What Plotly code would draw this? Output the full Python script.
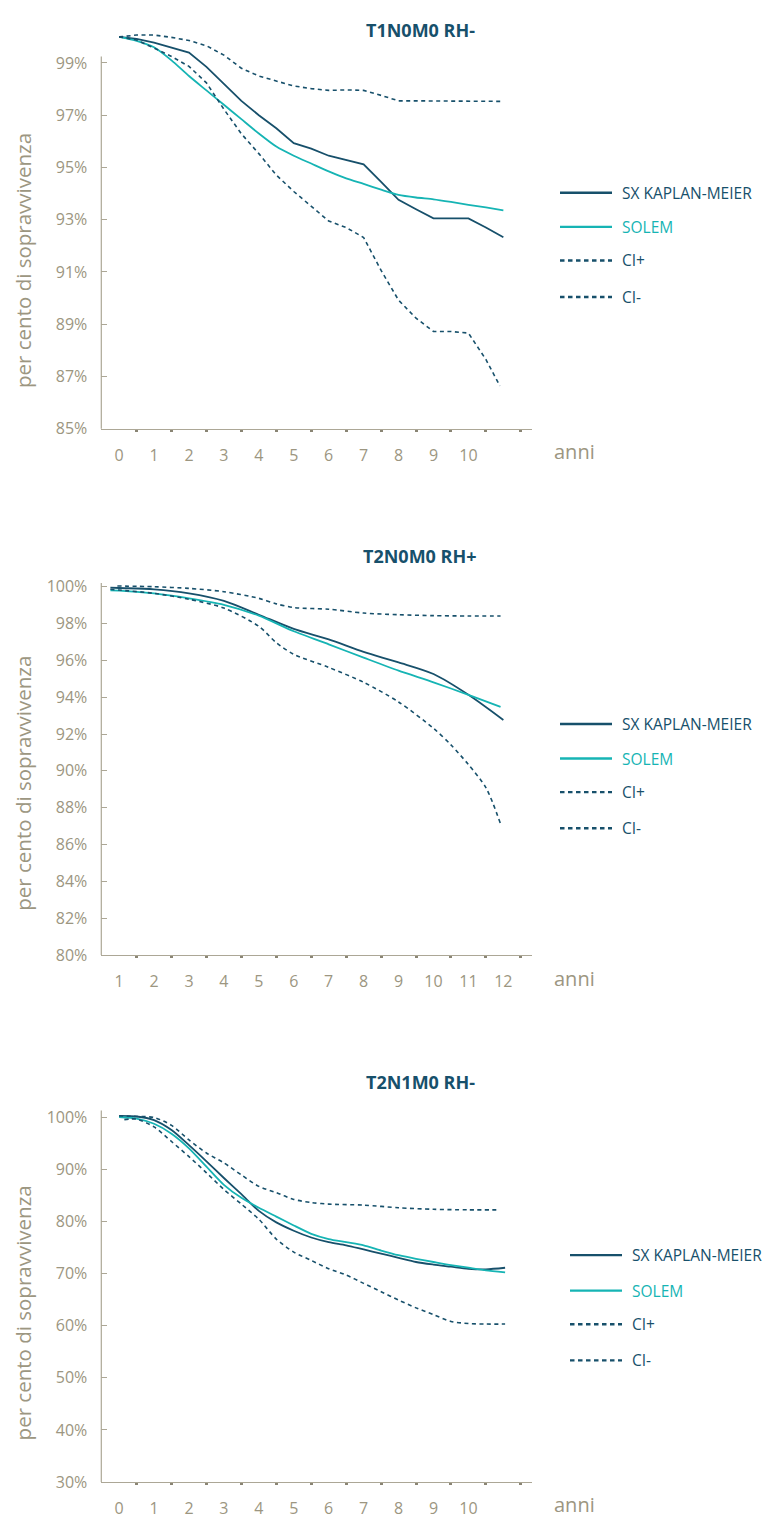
import plotly.graph_objects as go

W, H = 763, 1525

# ---------------- DATA ----------------
titles = ["T1N0M0 RH-", "T2N0M0 RH+", "T2N1M0 RH-"]
series_names = ["SX KAPLAN-MEIER", "SOLEM", "CI+", "CI-"]
y_label = "per cento di sopravvivenza"
x_label = "anni"

# Chart 1 : T1N0M0 RH-
c1_years = [0, 0.5, 1, 1.5, 2, 2.5, 3, 3.5, 4, 4.5, 5, 5.5, 6, 6.5, 7, 7.5, 8, 8.5, 9, 9.5, 10, 10.5, 11]
c1_km = [100.0, 99.92, 99.78, 99.6, 99.4, 98.85, 98.2, 97.55, 97.0, 96.5, 95.93, 95.72, 95.45, 95.28, 95.12,
         94.45, 93.76, 93.4, 93.05, 93.05, 93.05, 92.7, 92.33]
c1_solem = [100.0, 99.85, 99.6, 99.1, 98.5, 97.95, 97.4, 96.85, 96.3, 95.8, 95.45, 95.15, 94.85, 94.58, 94.37,
            94.15, 93.95, 93.85, 93.78, 93.68, 93.57, 93.47, 93.36]
c1_ci_hi = [100.0, 100.07, 100.07, 99.98, 99.86, 99.66, 99.3, 98.8, 98.5, 98.3, 98.12, 98.02, 97.95, 97.97, 97.95,
            97.76, 97.55, 97.55, 97.55, 97.55, 97.55, 97.55, 97.53]
c1_ci_lo_years = [0, 0.5, 1, 1.5, 2, 2.5, 3, 3.5, 4, 4.5, 5, 5.5, 6, 6.5, 7, 7.5, 8, 8.5, 9, 9.5, 10, 10.5, 10.9]
c1_ci_lo = [100.0, 99.88, 99.57, 99.25, 98.87, 98.24, 97.23, 96.29, 95.53, 94.71, 94.08, 93.51, 92.95, 92.7, 92.32,
            91.06, 89.92, 89.23, 88.72, 88.72, 88.66, 87.65, 86.64]
c1_ticks = [0, 1, 2, 3, 4, 5, 6, 7, 8, 9, 10]
c1_yticks = [85, 87, 89, 91, 93, 95, 97, 99]

# Chart 2 : T2N0M0 RH+
c2_years = [0.75, 1, 2, 3, 4, 5, 6, 7, 8, 9, 10, 11, 12]
c2_km = [99.95, 99.93, 99.86, 99.64, 99.23, 98.48, 97.71, 97.14, 96.46, 95.89, 95.26, 94.13, 92.76]
c2_solem_years = [0.75, 1, 2, 3, 4, 5, 6, 7, 8, 9, 10, 11, 11.92]
c2_solem = [99.8, 99.79, 99.64, 99.37, 99.02, 98.43, 97.58, 96.87, 96.15, 95.44, 94.81, 94.13, 93.47]
c2_ci_hi_years = [0.95, 2, 3, 4, 5, 5.5, 6, 7, 8, 9, 10, 11, 11.92]
c2_ci_hi = [100.04, 100.0, 99.91, 99.73, 99.37, 99.07, 98.87, 98.78, 98.57, 98.48, 98.43, 98.41, 98.41]
c2_ci_lo_years = [0.75, 1, 2, 3, 4, 5, 5.5, 6, 7, 8, 9, 10, 10.5, 11, 11.5, 11.92]
c2_ci_lo = [99.86, 99.82, 99.64, 99.32, 98.84, 97.85, 96.96, 96.33, 95.62, 94.81, 93.74, 92.31, 91.41, 90.34,
            89.09, 87.12]
c2_ticks = [1, 2, 3, 4, 5, 6, 7, 8, 9, 10, 11, 12]
c2_yticks = [80, 82, 84, 86, 88, 90, 92, 94, 96, 98, 100]

# Chart 3 : T2N1M0 RH-
c3_years = [0, 0.5, 1, 1.5, 2, 2.5, 3, 3.5, 4, 4.5, 5, 5.5, 6, 6.5, 7, 7.5, 8, 8.5, 9, 9.5, 10, 10.5, 11.05]
c3_km = [100.2, 100.1, 99.4, 97.5, 94.6, 91.5, 88.3, 85.2, 82.0, 79.8, 78.2, 76.9, 76.0, 75.4, 74.6, 73.8,
         73.0, 72.2, 71.7, 71.3, 70.9, 70.8, 71.1]
c3_solem = [100.0, 99.7, 98.7, 96.8, 94.0, 90.5, 87.0, 84.5, 82.6, 80.9, 79.2, 77.6, 76.6, 76.0, 75.4, 74.4,
            73.5, 72.8, 72.2, 71.6, 71.1, 70.6, 70.2]
c3_ci_hi_years = [0, 0.5, 1, 1.5, 2, 2.5, 3, 3.5, 4, 4.5, 5, 5.5, 6, 7, 8, 9, 10, 10.9]
c3_ci_hi = [100.2, 100.1, 99.9, 98.4, 95.6, 93.1, 91.2, 88.9, 86.7, 85.5, 84.2, 83.6, 83.3, 83.1, 82.6, 82.3,
            82.2, 82.2]
c3_ci_lo_years = [0.15, 0.5, 1, 1.5, 2, 2.5, 3, 3.5, 4, 4.5, 5, 5.5, 6, 6.5, 7, 7.5, 8, 8.5, 9, 9.5, 10, 10.5, 11.05]
c3_ci_lo = [99.5, 99.6, 98.1, 95.3, 92.4, 89.3, 86.1, 83.3, 80.4, 76.6, 74.1, 72.5, 70.9, 69.7, 68.1, 66.5,
            64.9, 63.4, 62.1, 60.8, 60.4, 60.3, 60.3]
c3_ticks = [0, 1, 2, 3, 4, 5, 6, 7, 8, 9, 10]
c3_yticks = [30, 40, 50, 60, 70, 80, 90, 100]

# ---------------- STYLE ----------------
KM_COLOR = "#17506b"
SOLEM_COLOR = "#16b4b4"
CI_COLOR = "#17506b"
AXIS_COLOR = "#aca796"
TICK_COLOR = "#9c9681"
DOT_COLOR = "#8a8574"
FONT = "Open Sans"

def px_x(p):
    return p / W

def px_y(p):
    return 1 - p / H

charts = [
    dict(title=titles[0], ticks=c1_ticks, yticks=c1_yticks, yrange=[85, 100.3], axis_top=99.25,
         xrange=[-0.51, 11.82], ydom=[px_y(426.7), px_y(22.3)],
         series=[(c1_years, c1_km, "km"), (c1_years, c1_solem, "solem"),
                 (c1_years, c1_ci_hi, "ci"), (c1_ci_lo_years, c1_ci_lo, "ci")],
         shape="linear", title_y=23.3, ylab_y=257, anni_y=450, leg_x=560, leg_y=[188, 222.5, 256.5, 293.5]),
    dict(title=titles[1], ticks=c2_ticks, yticks=c2_yticks, yrange=[80, 100.25], axis_top=100.2,
         xrange=[0.49, 12.82], ydom=[px_y(959.3), px_y(582.0)],
         series=[(c2_years, c2_km, "km"), (c2_solem_years, c2_solem, "solem"),
                 (c2_ci_hi_years, c2_ci_hi, "ci"), (c2_ci_lo_years, c2_ci_lo, "ci")],
         shape="spline", title_y=556, ylab_y=786, anni_y=983, leg_x=560, leg_y=[725.5, 760.5, 794.5, 831]),
    dict(title=titles[2], ticks=c3_ticks, yticks=c3_yticks, yrange=[30, 101.3], axis_top=101.25,
         xrange=[-0.51, 11.82], ydom=[px_y(1492.7), px_y(1116.4)],
         series=[(c3_years, c3_km, "km"), (c3_years, c3_solem, "solem"),
                 (c3_ci_hi_years, c3_ci_hi, "ci"), (c3_ci_lo_years, c3_ci_lo, "ci")],
         shape="spline", title_y=1088, ylab_y=1322, anni_y=1515, leg_x=570, leg_y=[1263, 1299, 1333, 1369.5]),
]

XDOM = [px_x(101.3), px_x(532)]

fig = go.Figure()
annotations = []
shapes = []

for i, ch in enumerate(charts):
    n = i + 1
    xa = "x" if n == 1 else f"x{n}"
    ya = "y" if n == 1 else f"y{n}"
    for (xs, ys, kind), name in zip(ch["series"], series_names):
        if kind == "km":
            line = dict(color=KM_COLOR, width=1.8, shape=ch["shape"] if n > 1 else "linear")
        elif kind == "solem":
            line = dict(color=SOLEM_COLOR, width=1.8, shape="spline", smoothing=0.6)
        else:
            line = dict(color=CI_COLOR, width=1.6, dash="4px,3.5px", shape=ch["shape"] if n > 1 else "linear")
        if line.get("shape") == "spline" and "smoothing" not in line:
            line["smoothing"] = 0.8
        fig.add_trace(go.Scatter(x=xs, y=ys, mode="lines", name=name, line=line,
                                 xaxis=xa, yaxis=ya, showlegend=False, hoverinfo="skip"))

    minor_vals = [t + 0.5 for t in range(int(ch["xrange"][0] + 0.51), int(ch["xrange"][0] + 0.51) + 12)]
    fig.layout[("xaxis" if n == 1 else f"xaxis{n}")] = dict(
        domain=XDOM, anchor=ya, range=ch["xrange"], showgrid=False, zeroline=False,
        showline=True, linecolor=AXIS_COLOR, linewidth=1.2,
        tickmode="array", tickvals=ch["ticks"], ticktext=[str(t) for t in ch["ticks"]],
        ticks="", ticklabelstandoff=12,
        tickfont=dict(family=FONT, size=16, color=TICK_COLOR),
        minor=dict(tickmode="array", tickvals=minor_vals, ticks="outside", ticklen=2,
                   tickwidth=2.5, tickcolor=DOT_COLOR, showgrid=False),
    )
    fig.layout[("yaxis" if n == 1 else f"yaxis{n}")] = dict(
        domain=ch["ydom"], anchor=xa, range=ch["yrange"], showgrid=False, zeroline=False,
        showline=False, tickmode="array", tickvals=ch["yticks"],
        ticktext=[f"{v}%" for v in ch["yticks"]], ticks="inside", ticklen=6, tickwidth=1,
        tickcolor=AXIS_COLOR, ticklabelstandoff=13,
        tickfont=dict(family=FONT, size=16, color=TICK_COLOR),
    )
    # y axis line (stops below top of data)
    r0, r1 = ch["yrange"]
    shapes.append(dict(type="line", xref=f"{xa} domain", yref=f"{ya} domain", x0=0, x1=0,
                       y0=0, y1=(ch["axis_top"] - r0) / (r1 - r0),
                       line=dict(color=AXIS_COLOR, width=1.2)))
    # title
    annotations.append(dict(text=f"<b>{ch['title']}</b>", xref="paper", yref="paper",
                            x=px_x(420), y=px_y(ch["title_y"]), xanchor="center", yanchor="middle",
                            showarrow=False, font=dict(family=FONT, size=18, color=KM_COLOR)))
    # y label
    annotations.append(dict(text=y_label, xref="paper", yref="paper", x=px_x(23), y=px_y(ch["ylab_y"]),
                            xanchor="center", yanchor="middle", textangle=-90, showarrow=False,
                            font=dict(family=FONT, size=20.5, color=TICK_COLOR)))
    # "anni"
    annotations.append(dict(text=x_label, xref="paper", yref="paper", x=px_x(552), y=px_y(ch["anni_y"]),
                            xanchor="left", yanchor="middle", showarrow=False,
                            font=dict(family=FONT, size=20, color=TICK_COLOR)))
    # legend
    lx = ch["leg_x"]
    styles = [(KM_COLOR, None, KM_COLOR), (SOLEM_COLOR, None, SOLEM_COLOR),
              (CI_COLOR, "4.5px,3.5px", KM_COLOR), (CI_COLOR, "4.5px,3.5px", KM_COLOR)]
    for (lc, dash, tc), ly, name in zip(styles, ch["leg_y"], series_names):
        ln = dict(color=lc, width=2.4)
        if dash:
            ln["dash"] = dash
        shapes.append(dict(type="line", xref="paper", yref="paper", x0=px_x(lx), x1=px_x(lx + 52),
                           y0=px_y(ly), y1=px_y(ly), line=ln))
        annotations.append(dict(text=name, xref="paper", yref="paper", x=px_x(lx + 60), y=px_y(ly),
                                xanchor="left", yanchor="middle", showarrow=False,
                                font=dict(family=FONT, size=15.5, color=tc)))

fig.update_layout(
    width=W, height=H, margin=dict(l=0, r=0, t=0, b=0),
    paper_bgcolor="white", plot_bgcolor="white",
    showlegend=False, annotations=annotations, shapes=shapes,
)

fig.write_html("out.html")
